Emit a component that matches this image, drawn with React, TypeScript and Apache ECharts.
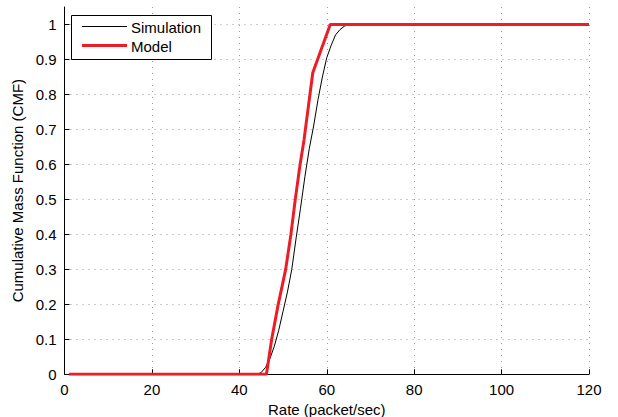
import React, { useEffect, useRef } from "react";
import * as echarts from "echarts";

const simX = [1, 44, 45, 46, 47, 48, 49, 50, 51, 52, 53, 54, 55, 56, 57, 58, 59, 60, 61, 62, 63, 64, 65, 120];
const simY = [0, 0, 0.005, 0.02, 0.045, 0.08, 0.125, 0.18, 0.235, 0.3, 0.39, 0.475, 0.565, 0.645, 0.71, 0.785, 0.85, 0.905, 0.94, 0.97, 0.985, 0.995, 1, 1];
const modelX = [1, 46.2, 47.4, 48.9, 50.6, 51.8, 52.8, 53.9, 54.8, 56.8, 60.8, 120];
const modelY = [0, 0, 0.1, 0.2, 0.3, 0.4, 0.5, 0.6, 0.67, 0.862, 1, 1];
const legendNames = ["Simulation", "Model"];
const SIM_COLOR = "#000";
const MODEL_COLOR = "#ee1c25";

const FONT = "Liberation Sans, Arial, Helvetica, sans-serif";

export default function App() {
  const ref = useRef<HTMLDivElement>(null);
  useEffect(() => {
    if (!ref.current) return;
    const chart = echarts.init(ref.current, undefined, { renderer: "svg" });
    const gridLine = { show: true, lineStyle: { color: "#999", type: [1, 5] as any, width: 1 } };
    chart.setOption({
      animation: false,
      backgroundColor: "#fff",
      textStyle: { fontFamily: FONT },
      grid: { left: 64.5, right: 29, top: 7, bottom: 42.7, containLabel: false, outerBoundsMode: "none" },
      graphic: [
        {
          type: "rect",
          shape: { x: 71.5, y: 15.5, width: 140, height: 44 },
          style: { fill: "#fff", stroke: "#000", lineWidth: 1 },
          z: 100,
        },
        {
          type: "line",
          shape: { x1: 82, y1: 26.5, x2: 127, y2: 26.5 },
          style: { stroke: SIM_COLOR, lineWidth: 1 },
          z: 101,
        },
        {
          type: "line",
          shape: { x1: 82, y1: 45.5, x2: 127, y2: 45.5 },
          style: { stroke: MODEL_COLOR, lineWidth: 3 },
          z: 101,
        },
        {
          type: "text",
          x: 131,
          y: 27,
          style: { text: legendNames[0], fill: "#000", font: `15px ${FONT}`, verticalAlign: "middle" },
          z: 101,
        },
        {
          type: "text",
          x: 131,
          y: 46,
          style: { text: legendNames[1], fill: "#000", font: `15px ${FONT}`, verticalAlign: "middle" },
          z: 101,
        },
      ],
      xAxis: {
        type: "value",
        min: 0,
        max: 120,
        interval: 20,
        name: "Rate (packet/sec)",
        nameLocation: "middle",
        nameGap: 23,
        nameTextStyle: { fontSize: 15, color: "#000", fontFamily: FONT },
        axisLine: { show: true, lineStyle: { color: "#000", width: 1 } },
        axisTick: { show: true, inside: true, length: 5, lineStyle: { color: "#000" } },
        axisLabel: { fontSize: 15, color: "#000", margin: 8, fontFamily: FONT },
        splitLine: gridLine,
      },
      yAxis: {
        type: "value",
        min: 0,
        max: 1.05,
        interval: 0.1,
        name: "Cumulative Mass Function (CMF)",
        nameLocation: "middle",
        nameGap: 27,
        nameTextStyle: { fontSize: 15, color: "#000", fontFamily: FONT },
        axisLine: { show: true, lineStyle: { color: "#000", width: 1 } },
        axisTick: { show: true, inside: true, length: 5, lineStyle: { color: "#000" } },
        axisLabel: {
          fontSize: 15,
          color: "#000",
          margin: 8,
          fontFamily: FONT,
          showMaxLabel: false,
          formatter: (v: number) => String(Number(v.toFixed(2))),
        },
        splitLine: { ...gridLine, showMaxLine: false },
      },
      series: [
        {
          name: legendNames[0],
          type: "line",
          symbol: "none",
          color: SIM_COLOR,
          lineStyle: { color: SIM_COLOR, width: 1 },
          data: simX.map((x, i) => [x, simY[i]]),
        },
        {
          name: legendNames[1],
          type: "line",
          symbol: "none",
          color: MODEL_COLOR,
          lineStyle: { color: MODEL_COLOR, width: 3 },
          data: modelX.map((x, i) => [x, modelY[i]]),
        },
      ],
    });
    return () => chart.dispose();
  }, []);
  return (
    <div
      ref={ref}
      style={{ position: "fixed", left: 0, top: 0, width: 618, height: 417 }}
    />
  );
}
